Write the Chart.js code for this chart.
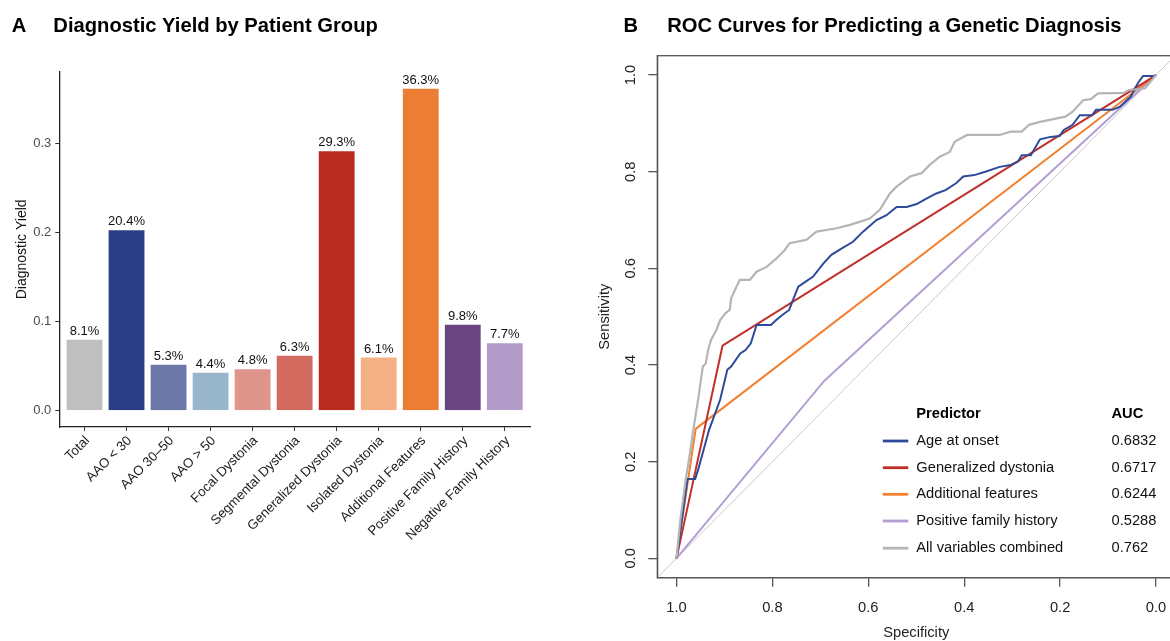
<!DOCTYPE html>
<html>
<head>
<meta charset="utf-8">
<script src="https://cdn.jsdelivr.net/npm/chart.js@4.4.1/dist/chart.umd.min.js"></script>
<style>
html, body { margin:0; padding:0; overflow:hidden; background:#fff; width:1170px; height:641px; }
canvas { display:block; }
#panelA { position:absolute; left:0; top:0; width:590px; height:641px; }
#panelB { position:absolute; left:590px; top:0; width:580px; height:641px; overflow:hidden; }
</style>
</head>
<body>
<div id="panelA"><canvas id="chartA" width="590" height="641"></canvas></div>
<div id="panelB"><canvas id="chartB" width="600" height="641"></canvas></div>
<script>
// panel A data
const categories = ['Total','AAO < 30','AAO 30–50','AAO > 50','Focal Dystonia','Segmental Dystonia',
	'Generalized Dystonia','Isolated Dystonia','Additional Features','Positive Family History','Negative Family History'];
const yieldValues = [0.081,0.204,0.053,0.044,0.048,0.063,0.293,0.061,0.363,0.098,0.077];
const barColors = ['#bfbfbf','#2b3e85','#6b78a8','#97b5cb','#df958c','#d26a5f','#b82b1f','#f4b185','#ec7e34','#6b4582','#b39bc9'];
const yieldTicks = [0,0.1,0.2,0.3];

// panel B data (specificity / sensitivity pairs)
const predictors = ['Age at onset','Generalized dystonia','Additional features','Positive family history','All variables combined'];
const aucValues = ['0.6832','0.6717','0.6244','0.5288','0.762'];
const rocColors = ['#2f4a9b','#c0302a','#f28030','#b49fd3','#b5b5b5'];
const rocTicks = [0,0.2,0.4,0.6,0.8,1.0];

const ageSpec = [1,0.977,0.961,0.955,0.932,0.909,0.894,0.886,0.867,0.856,0.845,0.833,0.803,0.792,0.780,0.765,0.757,0.746,0.736,0.715,
	0.694,0.677,0.656,0.632,0.611,0.583,0.562,0.541,0.520,0.499,0.478,0.458,0.439,0.417,0.402,0.379,0.356,0.326,0.303,0.288,
	0.280,0.261,0.242,0.220,0.201,0.193,0.174,0.159,0.133,0.125,0.091,0.076,0.053,0.038,0.027,0.004,0];
const ageSens = [0,0.164,0.164,0.183,0.266,0.328,0.390,0.397,0.424,0.431,0.445,0.483,0.483,0.493,0.503,0.514,0.535,0.562,0.569,0.583,
	0.610,0.628,0.641,0.655,0.676,0.700,0.710,0.727,0.727,0.733,0.745,0.755,0.762,0.776,0.790,0.793,0.800,0.810,0.814,0.821,
	0.834,0.834,0.867,0.872,0.874,0.886,0.897,0.917,0.917,0.928,0.928,0.934,0.955,0.983,0.998,0.998,1];

const genSpec = [1,0.904,0];
const genSens = [0,0.440,1];
const addSpec = [1,0.960,0];
const addSens = [0,0.268,1];
const famSpec = [1,0.692,0];
const famSens = [0,0.367,1];

const allSpec = [1,0.992,0.981,0.973,0.966,0.955,0.945,0.939,0.934,0.928,0.917,0.909,0.898,0.889,0.886,0.875,0.868,0.847,0.833,0.812,
	0.791,0.774,0.764,0.729,0.708,0.666,0.638,0.597,0.576,0.555,0.541,0.513,0.489,0.472,0.451,0.430,0.420,0.394,0.326,0.303,
	0.280,0.265,0.242,0.189,0.174,0.152,0.136,0.121,0.068,0.057,0.023,0];
const allSens = [0,0.079,0.162,0.210,0.259,0.328,0.397,0.403,0.431,0.452,0.472,0.493,0.507,0.514,0.538,0.562,0.576,0.576,0.593,0.603,
	0.621,0.638,0.652,0.659,0.676,0.683,0.690,0.703,0.721,0.755,0.769,0.790,0.797,0.814,0.831,0.841,0.862,0.876,0.876,0.883,
	0.883,0.897,0.903,0.914,0.924,0.948,0.950,0.962,0.963,0.969,0.972,1];

const chanceLine = [-0.04,1.04];

const FONT = '"Liberation Sans", Arial, Helvetica, sans-serif';

$ready();

function $ready(){
	Chart.defaults.font.family = FONT;
	Chart.defaults.animation = false;
	drawYieldChart();
	drawRocChart();
}

function toPoints(xs, ys){
	return xs.map(function(x, i){ return {x:x, y:ys[i]}; });
}

function panelTitle(letter, letterX, text, textX){
	return {
		id:'panelTitle',
		afterDraw:function(chart){
			let ctx = chart.ctx;
			ctx.save();
			ctx.fillStyle = '#000';
			ctx.font = 'bold 20.2px ' + FONT;
			ctx.textBaseline = 'alphabetic';
			ctx.textAlign = 'left';
			ctx.fillText(letter, letterX, 31.5);
			ctx.fillText(text, textX, 31.5);
			ctx.restore();
		}
	};
}

function drawYieldChart(){
	let barLabels = {
		id:'barLabels',
		afterDatasetsDraw:function(chart){
			let ctx = chart.ctx;
			let meta = chart.getDatasetMeta(0);
			ctx.save();
			ctx.fillStyle = '#111';
			ctx.font = '13px ' + FONT;
			ctx.textAlign = 'center';
			ctx.textBaseline = 'alphabetic';
			meta.data.forEach(function(bar, i){
				ctx.fillText((yieldValues[i]*100).toFixed(1) + '%', bar.x, bar.y - 4);
			});
			ctx.restore();
		}
	};

	new Chart(document.getElementById('chartA'), {
		type:'bar',
		data:{
			datasets:[{
				data:toPoints(categories.map(function(c, i){ return i + 1; }), yieldValues),
				backgroundColor:barColors,
				borderColor:'rgba(255,255,255,0.85)',
				borderWidth:1,
				categoryPercentage:1,
				barPercentage:0.9
			}]
		},
		options:{
			responsive:false,
			layout:{ padding:{ left:0, right:60, top:71.7, bottom:0 } },
			plugins:{ legend:{ display:false }, tooltip:{ enabled:false } },
			scales:{
				x:{
					type:'linear',
					offset:false,
					min:0.4,
					max:11.6,
					afterBuildTicks:function(scale){
						scale.ticks = categories.map(function(c, i){ return {value:i + 1}; });
					},
					afterFit:function(scale){ scale.height = 214; },
					grid:{ display:true, offset:false, drawOnChartArea:false, drawTicks:true, tickLength:4, color:'#333', lineWidth:1 },
					border:{ display:true, color:'#222', width:1.3 },
					ticks:{
						autoSkip:false,
						minRotation:45,
						maxRotation:45,
						padding:2,
						labelOffset:3,
						color:'#1a1a1a',
						font:{ size:13.3 },
						callback:function(v){ return categories[Math.round(v) - 1]; }
					}
				},
				y:{
					min:-0.01815,
					max:0.38115,
					afterBuildTicks:function(scale){
						scale.ticks = yieldTicks.map(function(v){ return {value:v}; });
					},
					afterFit:function(scale){ scale.width = 59.3; },
					grid:{ display:true, drawOnChartArea:false, drawTicks:true, tickLength:4, color:'#333', lineWidth:1 },
					border:{ display:true, color:'#222', width:1.3 },
					ticks:{
						padding:4,
						color:'#4d4d4d',
						font:{ size:13 },
						callback:function(v){ return v.toFixed(1); }
					},
					title:{ display:true, text:'Diagnostic Yield', color:'#111', font:{ size:14 }, padding:{ top:14, bottom:0 } }
				}
			}
		},
		plugins:[barLabels, panelTitle('A', 11.7, 'Diagnostic Yield by Patient Group', 53.3)]
	});
}

function drawRocChart(){
	let rocDecor = {
		id:'rocDecor',
		afterDraw:function(chart){
			let ctx = chart.ctx;
			let area = chart.chartArea;
			let yScale = chart.scales.y;
			ctx.save();
			// box
			ctx.strokeStyle = '#555';
			ctx.lineWidth = 1.3;
			ctx.strokeRect(area.left, area.top, area.right - area.left, area.bottom - area.top);

			// rotated y tick labels
			ctx.fillStyle = '#222';
			ctx.font = '14.7px ' + FONT;
			ctx.textAlign = 'center';
			ctx.textBaseline = 'middle';
			rocTicks.forEach(function(v){
				ctx.save();
				ctx.translate(40.5, yScale.getPixelForValue(v));
				ctx.rotate(-Math.PI/2);
				ctx.fillText(v.toFixed(1), 0, 0);
				ctx.restore();
			});

			// legend table
			let lx = 292.8, tx = 326.3, ax = 521.5;
			let rows = [441, 467.7, 494.3, 521, 548.2];
			ctx.textAlign = 'left';
			ctx.font = 'bold 14.7px ' + FONT;
			ctx.fillStyle = '#000';
			ctx.fillText('Predictor', tx, 414.3);
			ctx.fillText('AUC', ax, 414.3);
			ctx.font = '14.7px ' + FONT;
			predictors.forEach(function(name, i){
				ctx.strokeStyle = rocColors[i];
				ctx.lineWidth = 2.8;
				ctx.beginPath();
				ctx.moveTo(lx, rows[i]);
				ctx.lineTo(lx + 25.5, rows[i]);
				ctx.stroke();
				ctx.fillStyle = '#111';
				ctx.fillText(name, tx, rows[i]);
				ctx.fillText(aucValues[i], ax, rows[i]);
			});
			ctx.restore();
		}
	};

	let lineStyle = function(color, width, order){
		return { borderColor:color, borderWidth:width, pointRadius:0, tension:0, fill:false, order:order };
	};

	new Chart(document.getElementById('chartB'), {
		type:'line',
		data:{
			datasets:[
				Object.assign({ label:'chance', data:toPoints(chanceLine.slice().reverse(), chanceLine) }, lineStyle('#c8c8c8', 1, 10)),
				Object.assign({ label:predictors[3], data:toPoints(famSpec, famSens) }, lineStyle(rocColors[3], 2, 5)),
				Object.assign({ label:predictors[2], data:toPoints(addSpec, addSens) }, lineStyle(rocColors[2], 2, 4)),
				Object.assign({ label:predictors[1], data:toPoints(genSpec, genSens) }, lineStyle(rocColors[1], 2, 3)),
				Object.assign({ label:predictors[0], data:toPoints(ageSpec, ageSens) }, lineStyle(rocColors[0], 2, 2)),
				Object.assign({ label:predictors[4], data:toPoints(allSpec, allSens) }, lineStyle(rocColors[4], 2.2, 1))
			]
		},
		options:{
			responsive:false,
			layout:{ padding:{ left:0, right:14.8, top:55.7, bottom:0 } },
			plugins:{ legend:{ display:false }, tooltip:{ enabled:false } },
			scales:{
				x:{
					type:'linear',
					reverse:true,
					min:-0.04,
					max:1.04,
					afterBuildTicks:function(scale){
						scale.ticks = rocTicks.map(function(v){ return {value:v}; });
					},
					afterFit:function(scale){ scale.height = 63.3; },
					grid:{ display:true, drawOnChartArea:false, drawTicks:true, tickLength:9, color:'#555', lineWidth:1.3 },
					border:{ display:true, color:'#555', width:1.3 },
					ticks:{
						autoSkip:false,
						maxRotation:0,
						padding:12,
						color:'#222',
						font:{ size:14.7 },
						callback:function(v){ return v.toFixed(1); }
					},
					title:{ display:true, text:'Specificity', color:'#222', font:{ size:14.7 }, padding:{ top:0, bottom:-1 } }
				},
				y:{
					type:'linear',
					min:-0.04,
					max:1.04,
					afterBuildTicks:function(scale){
						scale.ticks = rocTicks.map(function(v){ return {value:v}; });
					},
					afterFit:function(scale){ scale.width = 67.3; },
					grid:{ display:true, drawOnChartArea:false, drawTicks:true, tickLength:9, color:'#555', lineWidth:1.3 },
					border:{ display:true, color:'#555', width:1.3 },
					ticks:{ display:false },
					title:{ display:true, text:'Sensitivity', color:'#222', font:{ size:14.7 }, padding:{ top:6, bottom:0 } }
				}
			}
		},
		plugins:[rocDecor, panelTitle('B', 33.6, 'ROC Curves for Predicting a Genetic Diagnosis', 77.2)]
	});
}
</script>
</body>
</html>
